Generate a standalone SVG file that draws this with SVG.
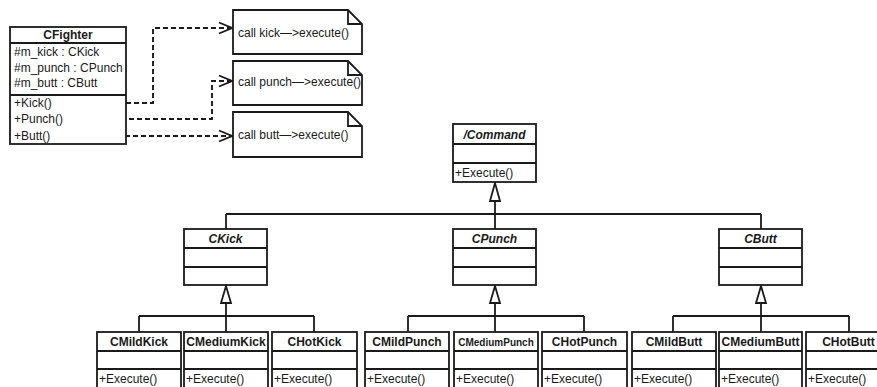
<svg xmlns="http://www.w3.org/2000/svg" width="877" height="387" viewBox="0 0 877 387">
<style>
.box{fill:#fff;stroke:#1a1a1a;stroke-width:1.8}
.ln{fill:none;stroke:#1a1a1a;stroke-width:1.8}
.dash{fill:none;stroke:#1a1a1a;stroke-width:1.9;stroke-dasharray:5 3}
.tri{fill:#fff;stroke:#1a1a1a;stroke-width:1.8}
text{font-family:"Liberation Sans",Arial,sans-serif;font-size:12px;fill:#1a1a1a}
.t{font-weight:bold;text-anchor:middle}
.ti{font-weight:bold;font-style:italic;text-anchor:middle}
</style>
<defs>
<marker id="open" markerWidth="16" markerHeight="14" refX="14" refY="7" orient="auto" markerUnits="userSpaceOnUse">
<path d="M1,1.5 L14,7 L1,12.5" fill="none" stroke="#1a1a1a" stroke-width="1.9"/>
</marker>
</defs>

<g id="connectors">
<path class="dash" d="M54,103 H153 V28 H232" marker-end="url(#open)"/>
<path class="dash" d="M65,119 H212 V81 H232" marker-end="url(#open)"/>
<path class="dash" d="M53,136 H232" marker-end="url(#open)"/>
<path class="ln" d="M495,201 V214 M226,214 H761 M226,214 V229 M495,214 V229 M761,214 V229"/>
<polygon class="tri" points="495,183 490,201 500,201"/>
<path class="ln" d="M226,303 V316 M139,316 H314 M139,316 V332 M226,316 V332 M314,316 V332"/>
<polygon class="tri" points="226,286 221,303 231,303"/>
<path class="ln" d="M495,303 V316 M408,316 H584 M408,316 V332 M495,316 V332 M584,316 V332"/>
<polygon class="tri" points="495,286 490,303 500,303"/>
<path class="ln" d="M761,303 V316 M673,316 H849 M673,316 V332 M761,316 V332 M849,316 V332"/>
<polygon class="tri" points="761,286 756,303 766,303"/>
</g>

<g id="CFighter">
<rect class="box" x="10" y="27" width="116" height="117"/>
<path class="ln" d="M10,43 H126 M10,95 H126"/>
<text class="t" x="68" y="39">CFighter</text>
<text x="14" y="56">#m_kick : CKick</text>
<text x="14" y="72">#m_punch : CPunch</text>
<text x="14" y="87">#m_butt : CButt</text>
<text x="14" y="107">+Kick()</text>
<text x="14" y="123">+Punch()</text>
<text x="14" y="140">+Butt()</text>
</g>

<g id="note-kick">
<path class="box" d="M233,10 H348 L362,24 V54 H233 Z"/>
<path class="ln" d="M348,10 V24 H362"/>
<text x="238" y="37">call kick—&gt;execute()</text>
</g>
<g id="note-punch">
<path class="box" d="M233,61 H348 L362,75 V105 H233 Z"/>
<path class="ln" d="M348,61 V75 H362"/>
<text x="238" y="86">call punch—&gt;execute()</text>
</g>
<g id="note-butt">
<path class="box" d="M233,112 H348 L362,126 V157 H233 Z"/>
<path class="ln" d="M348,112 V126 H362"/>
<text x="238" y="139">call butt—&gt;execute()</text>
</g>

<g id="Command">
<rect class="box" x="453" y="124" width="83" height="58"/>
<path class="ln" d="M453,144 H536 M453,163 H536"/>
<text class="ti" x="494.5" y="139">/Command</text>
<text x="455" y="177">+Execute()</text>
</g>

<g id="CKick">
<rect class="box" x="184" y="229" width="83" height="56"/>
<path class="ln" d="M184,248 H267 M184,267 H267"/>
<text class="ti" x="225.5" y="243">CKick</text>
</g>
<g id="CPunch">
<rect class="box" x="453" y="229" width="83" height="56"/>
<path class="ln" d="M453,248 H536 M453,267 H536"/>
<text class="ti" x="494.5" y="243">CPunch</text>
</g>
<g id="CButt">
<rect class="box" x="719" y="229" width="83" height="56"/>
<path class="ln" d="M719,248 H802 M719,267 H802"/>
<text class="ti" x="760.5" y="243">CButt</text>
</g>

<g id="CMildKick">
<rect class="box" x="97" y="332" width="84" height="60"/>
<path class="ln" d="M97,351 H181 M97,369 H181"/>
<text class="t" x="139" y="346">CMildKick</text>
<text x="99" y="383">+Execute()</text>
</g>
<g id="CMediumKick">
<rect class="box" x="184" y="332" width="84" height="60"/>
<path class="ln" d="M184,351 H268 M184,369 H268"/>
<text class="t" x="226" y="346">CMediumKick</text>
<text x="186" y="383">+Execute()</text>
</g>
<g id="CHotKick">
<rect class="box" x="272" y="332" width="85" height="60"/>
<path class="ln" d="M272,351 H357 M272,369 H357"/>
<text class="t" x="314.5" y="346">CHotKick</text>
<text x="274" y="383">+Execute()</text>
</g>

<g id="CMildPunch">
<rect class="box" x="365" y="332" width="84" height="60"/>
<path class="ln" d="M365,351 H449 M365,369 H449"/>
<text class="t" x="407" y="346">CMildPunch</text>
<text x="367" y="383">+Execute()</text>
</g>
<g id="CMediumPunch">
<rect class="box" x="454" y="332" width="84" height="60"/>
<path class="ln" d="M454,351 H538 M454,369 H538"/>
<text class="t" x="496" y="346" style="font-size:10px">CMediumPunch</text>
<text x="456" y="383">+Execute()</text>
</g>
<g id="CHotPunch">
<rect class="box" x="542" y="332" width="85" height="60"/>
<path class="ln" d="M542,351 H627 M542,369 H627"/>
<text class="t" x="584.5" y="346">CHotPunch</text>
<text x="544" y="383">+Execute()</text>
</g>

<g id="CMildButt">
<rect class="box" x="632" y="332" width="84" height="60"/>
<path class="ln" d="M632,351 H716 M632,369 H716"/>
<text class="t" x="674" y="346">CMildButt</text>
<text x="634" y="383">+Execute()</text>
</g>
<g id="CMediumButt">
<rect class="box" x="719" y="332" width="83" height="60"/>
<path class="ln" d="M719,351 H802 M719,369 H802"/>
<text class="t" x="760.5" y="346">CMediumButt</text>
<text x="721" y="383">+Execute()</text>
</g>
<g id="CHotButt">
<rect class="box" x="806" y="332" width="85" height="60"/>
<path class="ln" d="M806,351 H891 M806,369 H891"/>
<text class="t" x="848.5" y="346">CHotButt</text>
<text x="808" y="383">+Execute()</text>
</g>
</svg>
